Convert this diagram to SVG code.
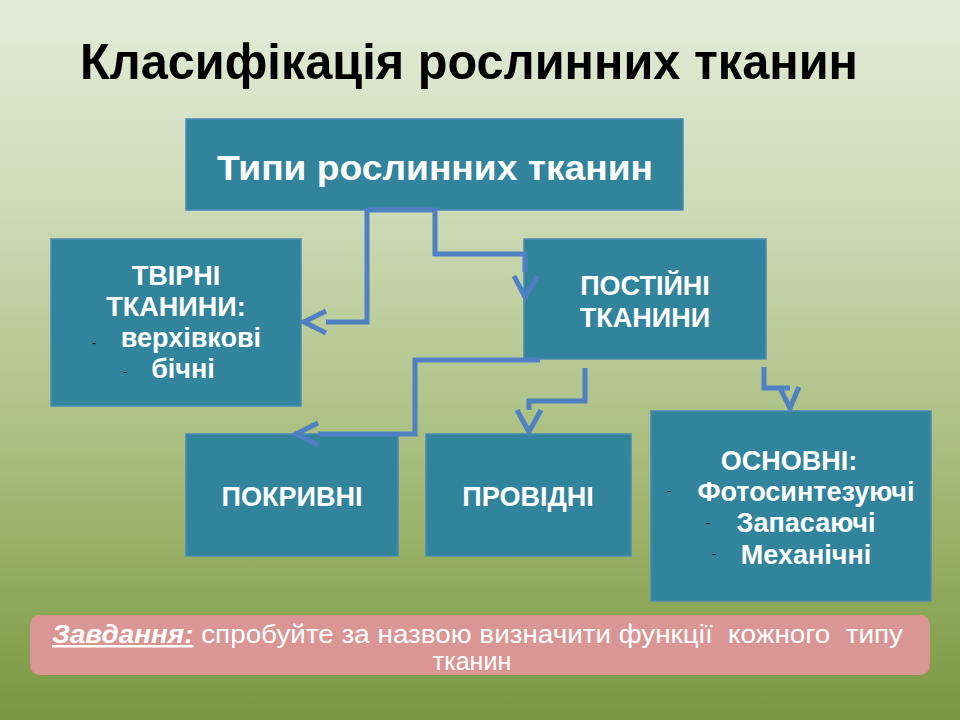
<svg xmlns="http://www.w3.org/2000/svg" width="960" height="720" viewBox="0 0 960 720">
  <defs>
    <linearGradient id="bg" x1="0" y1="0" x2="0" y2="1">
      <stop offset="0" stop-color="#e3ecd9"/>
      <stop offset="0.3" stop-color="#ccdab5"/>
      <stop offset="0.58" stop-color="#aec287"/>
      <stop offset="0.82" stop-color="#90aa5b"/>
      <stop offset="1" stop-color="#779744"/>
    </linearGradient>
  </defs>
  <style>
    .box { fill: #31849b; stroke: #4a8ab4; stroke-width: 1.5; }
    .t { font-family: "Liberation Sans", Arial, sans-serif; font-weight: bold; fill: #ffffff; text-anchor: middle; }
    .b { font-size: 27px; }
    .dash { font-family: "Liberation Sans", Arial, sans-serif; font-size: 12px; fill: #000000; text-anchor: middle; }
    .conn { fill: none; stroke: #4f80c2; stroke-width: 5; stroke-linejoin: miter; }
    .narrow { font-family: "Liberation Sans Narrow", "Liberation Sans", Arial, sans-serif; }
  </style>
  <rect x="0" y="0" width="960" height="720" fill="url(#bg)"/>

  <text id="title" class="narrow" x="80" y="79" font-size="50" font-weight="bold" fill="#000000" textLength="778" lengthAdjust="spacingAndGlyphs">Класифікація рослинних тканин</text>

  <g id="types">
    <rect class="box" x="186" y="119" width="497" height="91"/>
    <text class="t" x="435" y="180" font-size="35" textLength="436" lengthAdjust="spacingAndGlyphs">Типи рослинних тканин</text>
  </g>

  <g id="tvirni">
    <rect class="box" x="51" y="239" width="250" height="167"/>
    <text class="t b" x="176" y="285">ТВІРНІ</text>
    <text class="t b" x="176" y="316">ТКАНИНИ:</text>
    <text class="dash" x="94" y="347">-</text>
    <text class="t b" x="191" y="347">верхівкові</text>
    <text class="dash" x="125" y="376">-</text>
    <text class="t b" x="183" y="378">бічні</text>
  </g>

  <g id="postiyni">
    <rect class="box" x="524" y="239" width="242" height="120"/>
    <text class="t b" x="645" y="295">ПОСТІЙНІ</text>
    <text class="t b" x="645" y="327">ТКАНИНИ</text>
  </g>

  <g id="pokryvni">
    <rect class="box" x="186" y="434" width="212" height="122"/>
    <text class="t b" x="292" y="506">ПОКРИВНІ</text>
  </g>

  <g id="providni">
    <rect class="box" x="426" y="434" width="205" height="122"/>
    <text class="t b" x="528" y="506">ПРОВІДНІ</text>
  </g>

  <g id="osnovni">
    <rect class="box" x="651" y="411" width="280" height="190"/>
    <text class="t b" x="789" y="470">ОСНОВНІ:</text>
    <text class="dash" x="669" y="495">-</text>
    <text class="t b" x="806" y="501">Фотосинтезуючі</text>
    <text class="dash" x="708" y="527">-</text>
    <text class="t b" x="806" y="532">Запасаючі</text>
    <text class="dash" x="714" y="558">-</text>
    <text class="t b" x="806" y="564">Механічні</text>
  </g>

  <g id="connectors">
    <path class="conn" d="M367,208 V322 H326"/>
    <polyline class="conn" points="326,311 304,322 326,333"/>
    <path class="conn" d="M367,210 H435 V254 H525 V272"/>
    <polyline class="conn" points="514,276 525,297 537,276"/>
    <path class="conn" d="M540,360 H415 V434 H318"/>
    <polyline class="conn" points="318,423 296,434 318,445"/>
    <path class="conn" d="M585,368 V401 H529 V410"/>
    <polyline class="conn" points="517,410 529,432 541,410"/>
    <path class="conn" d="M764,367 V388 H790"/>
    <polyline class="conn" points="780,388 790,408 799,387"/>
  </g>

  <g id="task">
    <rect x="30" y="615" width="900" height="60" rx="10" ry="10" fill="#d99694"/>
    <text class="narrow" x="52" y="643" font-size="25" fill="#ffffff" textLength="851" lengthAdjust="spacingAndGlyphs" xml:space="preserve"><tspan font-weight="bold" font-style="italic" text-decoration="underline">Завдання:</tspan> спробуйте за назвою визначити функції  кожного  типу</text>
    <text class="narrow" x="472" y="670" font-size="25" fill="#ffffff" text-anchor="middle">тканин</text>
  </g>
</svg>
